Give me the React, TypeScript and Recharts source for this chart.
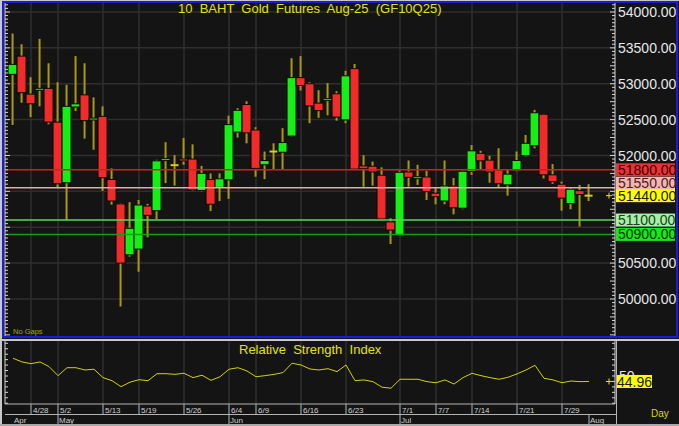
import React from 'react';
import { ComposedChart, Bar, Line, XAxis, YAxis, ReferenceLine } from 'recharts';

const FONT = '"Liberation Sans", Arial, sans-serif';

// trading days shown on the chart
const dates = [
  '4/24', '4/25', '4/28', '4/29', '4/30', '5/2', '5/6', '5/7', '5/8', '5/9',
  '5/13', '5/14', '5/15', '5/16', '5/19', '5/20', '5/21', '5/22', '5/23', '5/26',
  '5/27', '5/28', '5/29', '5/30', '6/4', '6/5', '6/6', '6/9', '6/10', '6/11',
  '6/12', '6/13', '6/16', '6/17', '6/18', '6/19', '6/20', '6/23', '6/24', '6/25',
  '6/26', '6/27', '6/30', '7/1', '7/2', '7/3', '7/4', '7/7', '7/8', '7/9',
  '7/11', '7/14', '7/15', '7/16', '7/17', '7/18', '7/21', '7/22', '7/23', '7/24',
  '7/25', '7/29', '7/30', '7/31', '8/1',
];

const opens = [
  53130, 53385, 52855, 52910, 52935, 52465, 51620, 52675, 52845, 52500,
  52545, 51665, 51325, 50615, 50695, 51295, 51230, 51935, 51865, 51950,
  51950, 51510, 51665, 51555, 51660, 52325, 52710, 52355, 51870, 52055,
  52045, 52270, 53085, 53000, 52730, 52765, 52860, 52495, 53210, 51855,
  51850, 51725, 51075, 50890, 51770, 51680, 51700, 51475, 51365, 51575,
  51265, 51775, 52030, 51935, 51800, 51590, 51785, 51995, 52135, 52575,
  51730, 51600, 51330, 51510, 51440,
];
const highs = [
  53700, 53550, 53090, 53625, 53285, 53020, 52985, 53385, 53285, 52810,
  52685, 51820, 51335, 51350, 51380, 51325, 51940, 52185, 52005, 52245,
  52155, 51855, 51750, 51750, 52555, 52660, 52755, 52395, 52055, 52170,
  52380, 53355, 53385, 53020, 52910, 53010, 52895, 53180, 53275, 52005,
  51915, 51835, 51125, 51790, 51930, 51870, 51785, 51545, 51930, 51685,
  51790, 52145, 52065, 51995, 52100, 51800, 52055, 52285, 52635, 52580,
  51880, 51635, 51550, 51590, 51600,
];
const lows = [
  52425, 52735, 52535, 52685, 52435, 51545, 51100, 52620, 52235, 52080,
  51505, 51315, 49895, 50590, 50380, 50860, 51115, 51615, 51580, 51870,
  51510, 51500, 51225, 51365, 51395, 52250, 52170, 51705, 51670, 51800,
  51800, 52260, 52905, 52450, 52525, 52560, 52485, 52450, 51800, 51565,
  51580, 51100, 50765, 50880, 51565, 51590, 51380, 51320, 51320, 51180,
  51250, 51730, 51800, 51620, 51545, 51440, 51775, 51985, 52100, 51680,
  51605, 51230, 51250, 51010, 51365,
];
const closes = [
  53270, 52875, 52720, 52935, 52465, 51605, 52685, 52720, 52485, 52515,
  51690, 51365, 50500, 50985, 51310, 51165, 51925, 51950, 51865, 51925,
  51520, 51750, 51320, 51675, 52430, 52630, 52315, 51820, 51930, 52055,
  52180, 53085, 52975, 52690, 52625, 52790, 52535, 53110, 51810, 51815,
  51770, 51115, 50960, 51765, 51695, 51700, 51495, 51425, 51575, 51270,
  51780, 52065, 51925, 51770, 51605, 51740, 51930, 52170, 52595, 51730,
  51635, 51405, 51530, 51455, 51440,
];
const rsiValues = [
  66.3, 62.9, 61.3, 62.9, 58.6, 50.3, 57.6, 57.6, 55.5, 56.2,
  48.5, 45.7, 40.2, 44.3, 46.6, 45.7, 52.1, 52.1, 51.5, 52.5,
  48.5, 50.7, 46.0, 49.3, 56.2, 57.6, 54.6, 49.3, 50.3, 51.5,
  53.1, 61.7, 60.1, 56.4, 55.5, 56.7, 54.0, 60.1, 45.7, 46.4,
  44.8, 39.7, 38.8, 47.0, 47.0, 47.0, 44.8, 43.8, 46.4, 42.6,
  48.5, 52.5, 50.3, 48.5, 47.0, 48.8, 51.9, 55.5, 59.8, 47.9,
  46.4, 43.8, 45.4, 44.8, 44.96,
];

const weekStarts = ['4/28', '5/2', '5/13', '5/19', '5/26', '6/4', '6/9', '6/16', '6/23', '7/1', '7/7', '7/14', '7/21', '7/29'];
const monthStarts = ['4/24', '5/2', '6/4', '7/1', '8/1'];
const monthNames = ['Apr', 'May', 'Jun', 'Jul', 'Aug'];

const priceDomain = [49484, 54125];
const priceLabels = [50000, 50500, 52000, 52500, 53000, 53500, 54000];
const gridPrices = [50000, 50500, 51000, 51500, 52000, 52500, 53000, 53500, 54000];
const levelPrices = [51800, 51550, 51100, 50900, 51440];
const levelStyles: Record<number, any> = {
  51800: { line: '#c82222', box: '#e83434', text: '#3a0000', dy: 0 },
  51550: { line: '#e8a8a8', box: '#f4b4b4', text: '#4a2020', dy: -4.5 },
  51100: { line: '#58d858', box: '#a4f0a4', text: '#1c401c', dy: 0 },
  50900: { line: '#12a012', box: '#18e818', text: '#003000', dy: 0 },
  51440: { line: null, box: '#ffff00', text: '#1a1a00', dy: 0, last: true },
};
const priceTicks = [
  ...Array.from({ length: 93 }, (_, i) => 49500 + i * 50).filter((v) => !levelPrices.includes(v)),
  ...levelPrices,
];

const rsiDomain = [24.3, 82.1];
const rsiMinorTicks = [25, 30, 35, 40, 45, 50, 55, 60, 65, 70, 75, 80];
const lastRsi = rsiValues[rsiValues.length - 1];
const rsiTicks = [...rsiMinorTicks, lastRsi];

const candles = dates.map((date, i) => ({
  date,
  open: opens[i],
  high: highs[i],
  low: lows[i],
  close: closes[i],
  range: [lows[i], highs[i]],
  rsi: rsiValues[i],
}));

const axisTicks = dates.filter((d) => weekStarts.includes(d) || monthStarts.includes(d));
const xPadding = { left: 3.5, right: 21.5 };

function Candle(props: any) {
  const { x, y, width, height, payload } = props;
  const { open, high, low, close } = payload;
  const top = Math.min(y, y + height);
  const h = Math.abs(height);
  const k = h / (high - low);
  const cx = x + width / 2;
  const yO = top + (high - open) * k;
  const yC = top + (high - close) * k;
  if (open === close) {
    return (
      <g>
        <line x1={cx} x2={cx} y1={top} y2={top + h} stroke="#a89818" strokeWidth={2} />
        <line x1={cx - 4} x2={cx + 4} y1={yO} y2={yO} stroke="#d8c820" strokeWidth={2} />
      </g>
    );
  }
  const color = close > open ? '#14f014' : '#f22a2a';
  let bt = Math.min(yO, yC);
  let bh = Math.abs(yC - yO);
  if (bh < 2) {
    bt -= (2 - bh) / 2;
    bh = 2;
  }
  return (
    <g>
      <line x1={cx} x2={cx} y1={top} y2={top + h} stroke="#a89818" strokeWidth={2} />
      <rect x={cx - 4.5} y={bt} width={9} height={bh} fill={color} stroke="#0a0a0a" strokeWidth={1} />
    </g>
  );
}

function LeftTick(props: any) {
  const { x, y, payload } = props;
  const v = payload.value;
  if (Math.round(v) !== v) return <g />;
  const len = v % 500 === 0 ? 5 : 3;
  return <line x1={x} x2={x + len} y1={y} y2={y} stroke="#d4d4d4" />;
}

function PriceTick(props: any) {
  const { x, y, payload } = props;
  const v = payload.value;
  const lvl = levelStyles[v];
  return (
    <g>
      {v % 50 === 0 && <line x1={x - (v % 250 === 0 ? 5 : 3)} x2={x} y1={y} y2={y} stroke="#d4d4d4" />}
      {priceLabels.includes(v) && (
        <text x={x + 3} y={y} dy="0.36em" fontSize={14} fill="#e6e6e6">
          {v.toFixed(2)}
        </text>
      )}
      {lvl && (
        <g>
          <rect x={x + 1} y={y - 6.5 + lvl.dy} width={59} height={13} fill={lvl.box} />
          <text x={x + 3} y={y + lvl.dy} dy="0.36em" fontSize={14} fill={lvl.text}>
            {v.toFixed(2)}
          </text>
        </g>
      )}
      {lvl && lvl.last && (
        <path d={`M${x - 9},${y}h6M${x - 6},${y - 3}v6`} stroke="#e8e800" strokeWidth={1} />
      )}
    </g>
  );
}

function RsiLeftTick(props: any) {
  const { x, y, payload } = props;
  if (!rsiMinorTicks.includes(payload.value)) return <g />;
  return <line x1={x} x2={x + 3} y1={y} y2={y} stroke="#d4d4d4" />;
}

function RsiTick(props: any) {
  const { x, y, payload } = props;
  const v = payload.value;
  if (v === lastRsi) {
    return (
      <g>
        <rect x={x + 1} y={y - 6.5} width={36} height={13} fill="#ffff00" />
        <text x={x + 2} y={y} dy="0.36em" fontSize={14} fill="#1a1a00">
          {v.toFixed(2)}
        </text>
        <path d={`M${x - 9},${y}h6M${x - 6},${y - 3}v6`} stroke="#e8e800" strokeWidth={1} />
      </g>
    );
  }
  return (
    <g>
      <line x1={x - 3} x2={x} y1={y} y2={y} stroke="#d4d4d4" />
      {v === 50 && (
        <text x={x + 4} y={y} dy="0.36em" fontSize={14} fill="#e6e6e6">
          50
        </text>
      )}
    </g>
  );
}

function DateTick(props: any) {
  const { x, y, payload } = props;
  const d = payload.value;
  const mi = monthStarts.indexOf(d);
  return (
    <g>
      {weekStarts.includes(d) && (
        <g>
          <line x1={x} x2={x} y1={y} y2={y + 10} stroke="#b4b4b4" />
          <text x={x + 2} y={y + 8.5} fontSize={8} fill="#d0d0d0">
            {d}
          </text>
        </g>
      )}
      {mi >= 0 && (
        <g>
          {mi > 0 && <line x1={x} x2={x} y1={y + 10} y2={y + 21} stroke="#b4b4b4" />}
          <text x={x + 1} y={y + 18.5} fontSize={8} fill="#d0d0d0">
            {monthNames[mi]}
          </text>
        </g>
      )}
    </g>
  );
}

const abs = (left: number, top: number, width: number, height: number, background: string): React.CSSProperties => ({
  position: 'absolute',
  left,
  top,
  width,
  height,
  background,
});

export default function App() {
  return (
    <div
      style={{
        position: 'absolute',
        left: 0,
        top: 0,
        width: 679,
        height: 426,
        background: '#141414',
        overflow: 'hidden',
        fontFamily: FONT,
      }}
    >
      <div style={{ position: 'absolute', left: 0, top: 0 }}>
        <ComposedChart width={679} height={336} data={candles} margin={{ top: 3, right: 0, bottom: 0, left: 0 }}>
          <XAxis dataKey="date" hide scale="band" padding={xPadding} interval={0} />
          <YAxis
            yAxisId="l"
            orientation="left"
            width={5}
            domain={priceDomain}
            allowDataOverflow
            ticks={priceTicks}
            interval={0}
            tickSize={0}
            tickMargin={0}
            tickLine={false}
            axisLine={{ stroke: '#d4d4d4' }}
            tick={LeftTick}
          />
          <YAxis
            yAxisId="r"
            orientation="right"
            width={64}
            domain={priceDomain}
            allowDataOverflow
            ticks={priceTicks}
            interval={0}
            tickSize={0}
            tickMargin={0}
            tickLine={false}
            axisLine={{ stroke: '#d4d4d4' }}
            tick={PriceTick}
          />
          {gridPrices.map((v) => (
            <ReferenceLine key={'g' + v} yAxisId="r" y={v} stroke="#2e2e2e" strokeWidth={1.5} zIndex={-50} />
          ))}
          {weekStarts.map((d) => (
            <ReferenceLine key={'v' + d} yAxisId="r" x={d} stroke="#2e2e2e" strokeWidth={1.5} zIndex={-50} />
          ))}
          <Bar yAxisId="r" dataKey="range" barSize={9} shape={Candle} isAnimationActive={false} />
          {levelPrices
            .filter((v) => levelStyles[v].line)
            .map((v) => (
              <ReferenceLine key={'l' + v} yAxisId="r" y={v} stroke={levelStyles[v].line} strokeWidth={1.5} zIndex={700} />
            ))}
        </ComposedChart>
      </div>

      <div style={{ position: 'absolute', left: 0, top: 341 }}>
        <ComposedChart width={679} height={85} data={candles} margin={{ top: 0, right: 0, bottom: 0, left: 0 }}>
          <XAxis
            dataKey="date"
            scale="band"
            height={22}
            padding={xPadding}
            ticks={axisTicks}
            interval={0}
            tickSize={0}
            tickMargin={0}
            tickLine={false}
            axisLine={{ stroke: '#b4b4b4' }}
            tick={DateTick}
          />
          <YAxis
            yAxisId="l"
            orientation="left"
            width={5}
            domain={rsiDomain}
            allowDataOverflow
            ticks={rsiMinorTicks}
            interval={0}
            tickSize={0}
            tickMargin={0}
            tickLine={false}
            axisLine={{ stroke: '#d4d4d4' }}
            tick={RsiLeftTick}
          />
          <YAxis
            yAxisId="r"
            orientation="right"
            width={64}
            domain={rsiDomain}
            allowDataOverflow
            ticks={rsiTicks}
            interval={0}
            tickSize={0}
            tickMargin={0}
            tickLine={false}
            axisLine={{ stroke: '#d4d4d4' }}
            tick={RsiTick}
          />
          {weekStarts.map((d) => (
            <ReferenceLine key={'rv' + d} yAxisId="r" x={d} stroke="#2e2e2e" strokeWidth={1.5} zIndex={-50} />
          ))}
          <Line yAxisId="r" dataKey="rsi" stroke="#d2d200" strokeWidth={1} dot={false} isAnimationActive={false} />
        </ComposedChart>
      </div>

      {/* frame */}
      <div style={{ ...abs(2, 1, 676, 337, 'transparent'), border: '2px solid #1c1cd8', boxSizing: 'border-box' }} />
      <div style={abs(0, 0, 679, 1, '#c8c8c8')} />
      <div style={abs(0, 0, 2, 426, '#c8c8c8')} />
      <div style={abs(0, 339, 679, 2, '#c8c8c8')} />
      <div style={abs(616, 341, 1, 85, '#b4b4b4')} />
      <div style={abs(5, 414, 611, 1, '#b4b4b4')} />
      <div style={abs(0, 424, 679, 2, '#a8a8a8')} />

      <div
        style={{ position: 'absolute', left: 178, top: 2, fontSize: 13, lineHeight: '13px', color: '#e4e400', whiteSpace: 'pre' }}
      >
        10  BAHT  Gold  Futures  Aug-25  (GF10Q25)
      </div>
      <div
        style={{ position: 'absolute', left: 239, top: 343, fontSize: 13, lineHeight: '13px', color: '#e4e400', whiteSpace: 'pre' }}
      >
        Relative  Strength  Index
      </div>
      <div style={{ position: 'absolute', left: 13, top: 328, fontSize: 7.5, lineHeight: '8px', color: '#a4a400' }}>
        No Gaps
      </div>
      <div style={{ position: 'absolute', left: 651, top: 409, fontSize: 10, lineHeight: '10px', color: '#d8d800' }}>
        Day
      </div>
    </div>
  );
}
